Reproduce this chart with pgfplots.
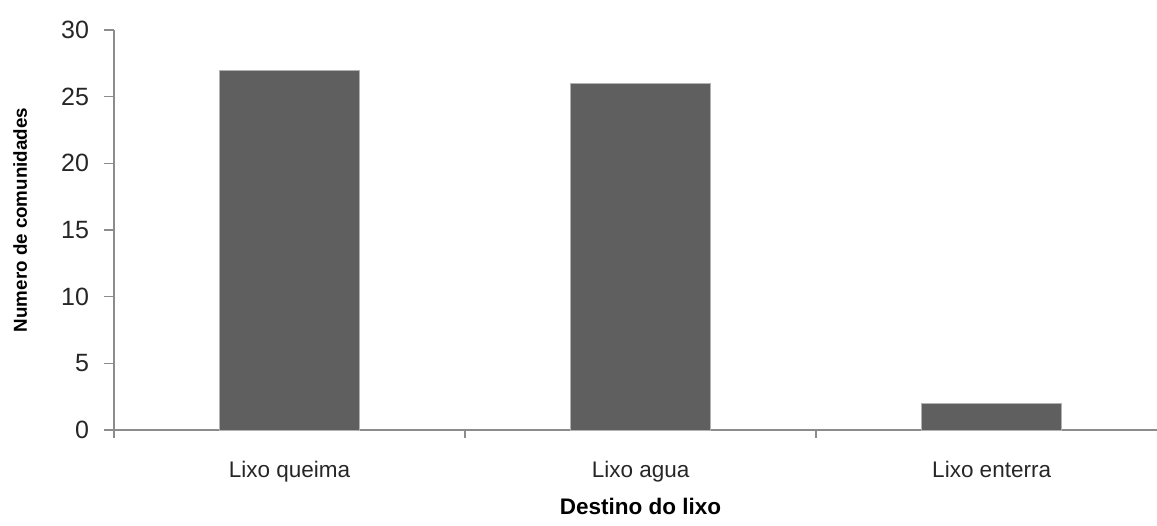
\documentclass[border=0pt]{standalone}
\usepackage{pgfplots}
\pgfplotsset{compat=1.18}
\usepackage{fontspec}
\setmainfont{Liberation Sans}
\definecolor{barcol}{HTML}{5F5F5F}
\definecolor{axcol}{HTML}{8C8C8C}
\begin{document}
\begin{tikzpicture}
\useasboundingbox (0,0) rectangle (462.8pt,210pt);
\begin{axis}[
  at={(45.6pt,38pt)}, anchor=south west,
  scale only axis, width=417.2pt, height=160pt,
  xmin=-0.5, xmax=2.471, ymin=0, ymax=30,
  axis lines=left,
  axis line style={-, draw=axcol, line width=0.6pt},
  ytick={0,5,...,30},
  xtick={0,1,2},
  xticklabels={Lixo queima, Lixo agua, Lixo enterra},
  minor xtick={-0.5,0.5,1.5,2.5},
  major x tick style={draw=none},
  tick style={draw=axcol, line width=0.6pt},
  tick align=outside,
  major tick length=4pt, minor tick length=3pt,
  /pgf/number format/assume math mode=true,
  yticklabel style={font=\fontsize{10}{12}\selectfont, text=black!85, xshift=-2.5pt},
  xticklabel style={font=\fontsize{9}{11}\selectfont, text=black!85, yshift=-5pt},
  ylabel={Numero de comunidades},
  ylabel style={font=\fontsize{7.5}{9}\selectfont\bfseries, at={(axis description cs:-0.090,0.525)}, anchor=center, rotate=0},
  xlabel={Destino do lixo},
  xlabel style={font=\fontsize{9}{11}\selectfont\bfseries, at={(axis cs:1,-5.7)}, anchor=center},
  ybar, bar width=56pt,
  clip=false,
]
\addplot[fill=barcol, draw=black!30, line width=0.4pt] coordinates {(0,27) (1,26) (2,2)};
\end{axis}
\end{tikzpicture}
\end{document}
